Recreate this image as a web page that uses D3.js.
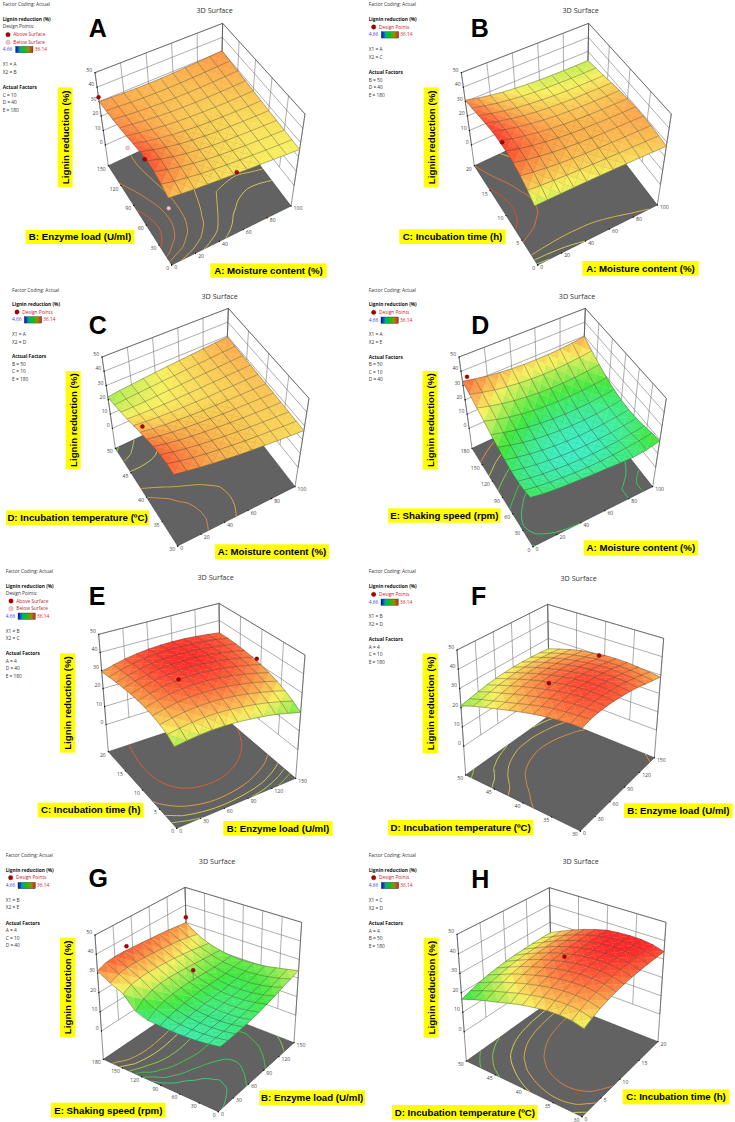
<!DOCTYPE html>
<html>
<head>
<meta charset="utf-8">
<script src="https://cdn.jsdelivr.net/npm/d3@7"></script>
<style>
  html, body { margin: 0; padding: 0; background: #fff; }
  text { font-family: "Open Sans", "Noto Sans", sans-serif; }
</style>
</head>
<body>
<div id="chart"></div>
<script>
// Lignin reduction, rows = second factor low to high, columns = first factor low to high
var surfaceA = [
  [28,27.5,27,26.7,26.4,26.2,26,25.8,25.6,25.4,25.2],
  [31,29.5,28.5,27.6,27,26.5,26.2,26,25.8,25.7,25.6],
  [33,31,29.5,28.3,27.4,26.8,26.4,26.2,26,26,26],
  [34,31.8,30,28.7,27.7,27,26.6,26.4,26.3,26.3,26.4],
  [33.8,31.8,30.1,28.8,27.9,27.2,26.8,26.7,26.6,26.7,26.8],
  [33,31.3,29.9,28.8,28,27.4,27.1,27,27,27.1,27.3],
  [32,30.7,29.6,28.7,28,27.6,27.4,27.3,27.4,27.6,27.9],
  [31.2,30.2,29.3,28.6,28.1,27.8,27.7,27.7,27.9,28.2,28.5],
  [30.6,29.8,29.1,28.6,28.2,28,28,28.1,28.4,28.7,29.1],
  [30.2,29.6,29,28.6,28.4,28.3,28.4,28.6,28.9,29.3,29.7],
  [30,29.5,29,28.7,28.6,28.6,28.8,29.1,29.5,29.9,30.4]
];
var surfaceB = [
  [23,23.5,24,24.5,25,25.4,25.8,26.2,26.6,26.9,27.2],
  [27,26.7,26.6,26.6,26.7,26.8,27,27.3,27.6,27.9,28.2],
  [30.3,29.4,28.7,28.2,28,27.9,28,28.2,28.4,28.7,29],
  [32.7,31.3,30.2,29.4,28.9,28.6,28.5,28.6,28.8,29,29.3],
  [34.2,32.5,31.2,30.1,29.4,28.9,28.7,28.7,28.8,29,29.3],
  [35,33,31.5,30.3,29.4,28.8,28.4,28.3,28.3,28.5,28.8],
  [35,32.9,31.2,30,29,28.3,27.9,27.7,27.7,27.8,28],
  [34.3,32.2,30.5,29.2,28.2,27.5,27.1,26.8,26.8,26.8,27],
  [33.2,31.2,29.5,28.2,27.2,26.5,26,25.7,25.6,25.6,25.8],
  [32,30,28.4,27.2,26.2,25.5,25,24.7,24.5,24.5,24.6],
  [31,29,27.4,26.1,25.2,24.5,24,23.7,23.5,23.4,23.5]
];
var surfaceC = [
  [32,31,30,29.2,28.6,28,27.6,27.3,27,26.8,26.6],
  [33,31.6,30.4,29.5,28.8,28.2,27.7,27.4,27.2,27,26.9],
  [33,31.5,30.3,29.4,28.8,28.2,27.8,27.5,27.3,27.2,27.2],
  [32.3,30.9,29.8,29.1,28.5,28.1,27.7,27.5,27.4,27.4,27.5],
  [31,29.9,29,28.4,28,27.7,27.5,27.5,27.5,27.6,27.8],
  [29.5,28.6,27.9,27.5,27.2,27.1,27.1,27.2,27.4,27.6,27.9],
  [27.8,27.2,26.8,26.6,26.6,26.7,26.8,27.1,27.4,27.8,28.2],
  [26,25.8,25.7,25.8,26,26.3,26.7,27.1,27.5,28,28.5],
  [24.4,24.5,24.8,25.2,25.7,26.2,26.7,27.2,27.7,28.3,28.8],
  [23,23.6,24.2,24.8,25.4,26,26.6,27.2,27.8,28.4,29],
  [22,23,23.7,24.5,25.2,25.9,26.5,27.2,27.9,28.6,29.2]
];
var surfaceD = [
  [17.2,16.1,15.6,15.3,15.2,15,15,15,15.2,16.5,19],
  [15.8,14.8,14,13.5,13.2,13.2,13.5,14.2,15.2,16.6,18.3],
  [15.5,14.3,13.4,12.8,12.4,12.3,12.5,13.1,14,15.3,16.9],
  [16,14.6,13.4,12.6,12.1,11.9,12,12.5,13.3,14.5,16],
  [17.3,15.6,14.2,13.2,12.5,12.1,12.1,12.5,13.2,14.3,15.7],
  [19.4,17.4,15.7,14.5,13.6,13.1,13,13.2,13.8,14.8,16.1],
  [21.7,19.6,17.8,16.4,15.4,14.8,14.5,14.6,15.1,16,17.3],
  [24.5,22.2,20.4,18.9,17.9,17.2,16.9,17,17.4,18.2,19.4],
  [27.2,25,23.2,21.8,20.8,20.1,19.8,19.9,20.3,21.1,22.3],
  [30.2,28.2,26.4,25.1,24.1,23.5,23.2,23.3,23.8,24.6,25.8],
  [33,31.2,29.8,28.7,27.9,27.4,27.2,27.3,27.7,28.5,29.6]
];
var surfaceE = [
  [22,23,23.9,24.5,24.7,24.6,24.2,23.6,22.7,21.3,19.7],
  [24.7,26,27,27.7,28,27.9,27.5,26.8,25.8,24.4,22.7],
  [26.6,28,29.2,30,30.4,30.4,30,29.3,28.2,26.9,25.2],
  [28,29.6,31,31.9,32.3,32.4,32.1,31.3,30.3,29,27.3],
  [29,30.8,32.2,33.2,33.8,33.9,33.6,32.9,31.9,30.6,29],
  [29.6,31.4,33,34,34.6,34.8,34.6,34,33.1,31.9,30.4],
  [30,31.8,33.4,34.5,35.2,35.5,35.3,34.8,33.9,32.8,31.4],
  [30,31.9,33.5,34.7,35.4,35.7,35.6,35.2,34.4,33.4,32.1],
  [29.9,31.8,33.4,34.6,35.3,35.7,35.7,35.3,34.6,33.8,32.6],
  [29.6,31.6,33.1,34.3,35,35.4,35.5,35.2,34.7,33.9,32.8],
  [29.2,31.2,32.7,33.8,34.6,35,35.1,34.9,34.4,33.7,32.8]
];
var surfaceF = [
  [31,32.3,33,33.3,33.3,33.1,32.7,32,31,30,28.8],
  [30.9,32.2,33.2,33.8,34,33.9,33.6,33,32,30.9,29.6],
  [30.6,32,33.2,34,34.3,34.4,34.1,33.5,32.6,31.6,30.3],
  [30.3,31.6,32.8,33.7,34.2,34.4,34.2,33.7,33,32,30.9],
  [29.6,30.8,32,33,33.7,34,33.9,33.5,32.9,32,31],
  [28.6,29.6,30.9,32,32.8,33.2,33.2,33,32.4,31.6,30.8],
  [27.4,28.2,29.6,30.8,31.6,32.1,32.2,32,31.5,30.8,30],
  [26,26.8,28.2,29.4,30.2,30.7,30.9,30.8,30.4,29.8,29.2],
  [24.6,25.3,26.6,27.7,28.5,29,29.3,29.2,28.9,28.4,27.8],
  [23,23.8,25,25.9,26.6,27.2,27.4,27.4,27.1,26.7,26],
  [21,22,23,23.9,24.5,25,25.2,25.2,25,24.6,24]
];
var surfaceG = [
  [14.4,14.6,15,15.5,16.2,17,18.2,19.5,21,22.5,24],
  [13.7,13.9,14.2,14.7,15.3,16.1,17,18,19.4,20.9,22.7],
  [13.3,13.6,14,14.4,15,15.5,16.3,17.1,18.2,19.7,21.5],
  [13.2,13.6,14.1,14.7,15.2,15.7,16.2,16.8,17.7,18.9,20.4],
  [13.4,14.1,14.9,15.4,16,16.3,16.6,17,17.6,18.5,19.8],
  [13.9,15.4,16.4,17,17.6,18,18,18,18.2,18.8,19.5],
  [14.6,17.2,18.8,19.6,20,20.1,19.9,19.7,19.5,19.5,19.8],
  [17,20.4,22.2,23,23.2,23,22.6,22.2,21.7,21.2,20.8],
  [23.5,25.5,26.3,26.6,26.5,26.2,25.8,25.2,24.5,23.5,22.5],
  [27,29,29.8,30,29.8,29.5,29,28.5,27.8,26.8,25.5],
  [31.2,33,33.5,33.5,33.2,32.8,32.4,32,31.5,30.8,30]
];
var surfaceH = [
  [24,26,27.8,29.2,30.4,31.4,32.2,32.8,33.3,33.7,34],
  [25.6,27.7,29.5,31,32.2,33.2,34,34.6,35.1,35.5,35.8],
  [26.2,28.4,30.2,31.8,33,34,34.9,35.5,36,36.4,36.7],
  [26.2,28.4,30.3,31.9,33.2,34.2,35.1,35.7,36.2,36.6,36.8],
  [25.6,27.9,29.9,31.5,32.8,33.9,34.7,35.4,35.9,36.3,36.5],
  [24.8,27,29,30.7,32,33,33.9,34.6,35.1,35.5,35.8],
  [23.5,25.8,27.8,29.4,30.7,31.7,32.6,33.2,33.7,34,34.2],
  [22,24.2,26.2,27.8,29,30,30.8,31.4,31.8,32.1,32.2],
  [20.5,22.6,24.4,25.9,27,27.9,28.6,29.1,29.5,29.7,29.8],
  [18.8,20.6,22.2,23.5,24.6,25.4,26,26.4,26.7,26.9,27],
  [16.7,18.3,19.8,21,21.9,22.6,23.1,23.5,23.7,23.9,24]
];

// Levels of the contour lines on the floor
var levelsA = [26.3,26.8,27.6,29,30.5,32.5];
var levelsB = [23.5,25,27,31,33.5];
var levelsC = [22.3,23.5,25,28,29.5];
var levelsD = [15.2,17,21,25,29];
var levelsE = [22,24,26,28.5,32.5];
var levelsF = [22,25,27,29.5];
var levelsG = [14.5,16,18.5,22,25.5,28];
var levelsH = [19.3,21.8,25.2,27.5,30.5];

// Design points: first factor, second factor, lignin reduction, kind (1 above, 0 below), surface under the point if its stem shows
var pointsA = [[0,150,33,1],[0,50,33,1],[52,0,27,1],[0,90,24,0],[0,0,21.6,0]];
var pointsB = [[0,9,37,1]];
var pointsC = [[0,39,36.5,1]];
var pointsD = [[4,180,34.7,1]];
var pointsE = [[50,10,34.5,1],[150,11,32,1]];
var pointsF = [[50,40,34.3,1],[140,40,32.7,1]];
var pointsG = [[50,180,35.5,1],[150,180,33,1],[82,108,25,1,19.5]];
var pointsH = [[10,40,35.5,1]];

// Axis ticks
var ticksMoisture = [0,20,40,60,80,100];
var ticksEnzyme = [0,30,60,90,120,150];
var ticksTime = [0,5,10,15,20];
var ticksTemp = [30,35,40,45,50];
var ticksSpeed = [0,30,60,90,120,150,180];
var ticksLignin = [0,10,20,30,40,50];

var labelMoisture = "A: Moisture content (%)";
var labelEnzyme = "B: Enzyme load (U/ml)";
var labelTime = "C: Incubation time (h)";
var labelTemp = "D: Incubation temperature (\u00BAC)";
var labelSpeed = "E: Shaking speed (rpm)";
var labelLignin = "Lignin reduction (%)";

var colorValues = [4.66, 11.5, 18, 25.5, 36];
var colorStops = ["#3030ff", "#40f0d0", "#40e840", "#f8f060", "#ff2828"];

var width = 735, height = 1122;

// All layout numbers below are in the 3x zoom space of one panel, see at()
var panels = [
  { letter:"A", ox:0, oy:0, data:surfaceA, levels:levelsA, points:pointsA, uTicks:ticksMoisture, vTicks:ticksEnzyme,
    floorZ:-14.3, F:[515,795], R:[873,618], L:[325,497], B:[662,340], Ft:[499,490], Rt:[915,342], Lt:[285,218], Bt:[668,70],
    title:[644,32], big:[293,110], lx:8, fy:13, ly:58, two:true, dy:[80,104,127], by:148, bx:47, xy:[193,217], ay:262, ays:[285,307,330],
    xn:["X1 = A","X2 = B"], act:["C = 10","D = 40","E = 180"],
    yBox:[173,262,218,562], vLab:labelEnzyme, vBox:[77,690,403,732], uLab:labelMoisture, uBox:[631,790,980,833] },
  { letter:"B", ox:367, oy:0, data:surfaceB, levels:levelsB, points:pointsB, uTicks:ticksMoisture, vTicks:ticksTime,
    floorZ:-14.3, F:[512,795], R:[871,615], L:[322,497], B:[660,340], Ft:[496,490], Rt:[913,342], Lt:[283,218], Bt:[665,70],
    title:[641,32], big:[338,110], lx:5, fy:13, ly:58, dy:[81], by:104, bx:43, xy:[148,172], ay:217, ays:[240,263,286],
    xn:["X1 = A","X2 = C"], act:["B = 50","D = 40","E = 180"],
    yBox:[170,262,215,562], vLab:labelTime, vBox:[97,688,416,732], uLab:labelMoisture, uBox:[646,783,995,827] },
  { letter:"C", ox:0, oy:285, data:surfaceC, levels:levelsC, points:pointsC, uTicks:ticksMoisture, vTicks:ticksTemp,
    floorZ:-14, F:[533,783], R:[885,605], L:[346,490], B:[676,335], Ft:[516,485], Rt:[927,340], Lt:[306,216], Bt:[685,70],
    title:[659,33], big:[293,148], lx:36, fy:15, ly:59, dy:[81], by:104, bx:73, xy:[148,171], ay:215, ays:[238,260,283],
    xn:["X1 = A","X2 = D"], act:["B = 50","C = 10","E = 180"],
    yBox:[197,258,242,553], vLab:labelTemp, vBox:[18,676,447,720], uLab:labelMoisture, uBox:[645,778,987,822] },
  { letter:"D", ox:367, oy:285, data:surfaceD, levels:levelsD, points:pointsD, uTicks:ticksMoisture, vTicks:ticksSpeed,
    floorZ:-14, F:[498,785], R:[857,605], L:[315,490], B:[645,335], Ft:[482,482], Rt:[898,340], Lt:[276,216], Bt:[655,70],
    title:[630,33], big:[340,148], lx:5, fy:15, ly:59, dy:[82], by:105, bx:42, xy:[148,172], ay:216, ays:[239,261,284],
    xn:["X1 = A","X2 = E"], act:["B = 50","C = 10","D = 40"],
    yBox:[167,258,212,553], vLab:labelSpeed, vBox:[63,670,401,713], uLab:labelMoisture, uBox:[650,766,993,810] },
  { letter:"E", ox:0, oy:570, data:surfaceE, levels:levelsE, points:pointsE, uTicks:ticksEnzyme, vTicks:ticksTime,
    floorZ:-15, F:[530,775], R:[887,625], L:[325,545], B:[662,433], Ft:[518,345], Rt:[915,255], Lt:[296,193], Bt:[657,100],
    title:[647,21], big:[291,105], lx:17, fy:3, ly:48, two:true, dy:[70,93,116], by:138, bx:54, xy:[183,206], ay:250, ays:[273,296,318],
    xn:["X1 = B","X2 = C"], act:["A = 4","D = 40","E = 180"],
    yBox:[180,250,226,548], vLab:labelTime, vBox:[113,698,431,742], uLab:labelEnzyme, uBox:[670,753,998,797] },
  { letter:"F", ox:367, oy:570, data:surfaceF, levels:levelsF, points:pointsF, uTicks:ticksEnzyme, vTicks:ticksTemp,
    floorZ:-15, F:[640,783], R:[862,563], L:[296,615], B:[548,436], Ft:[650,345], Rt:[890,205], Lt:[270,240], Bt:[542,103],
    title:[635,25], big:[335,105], lx:5, fy:5, ly:50, dy:[73], by:96, bx:42, xy:[140,163], ay:208, ays:[231,253,276],
    xn:["X1 = B","X2 = D"], act:["A = 4","C = 10","E = 180"],
    yBox:[167,250,213,550], vLab:labelTemp, vBox:[63,750,499,795], uLab:labelEnzyme, uBox:[771,700,1097,744] },
  { letter:"G", ox:0, oy:845, data:surfaceG, levels:levelsG, points:pointsG, uTicks:ticksEnzyme, vTicks:ticksSpeed,
    floorZ:-14.8, F:[655,800], R:[882,593], L:[310,643], B:[565,470], Ft:[668,368], Rt:[905,232], Lt:[285,270], Bt:[555,127],
    title:[651,49], big:[295,127], lx:17, fy:30, ly:75, dy:[98], by:121, bx:54, xy:[165,188], ay:234, ays:[256,279,302],
    xn:["X1 = B","X2 = E"], act:["A = 4","C = 10","D = 40"],
    yBox:[180,278,226,576], vLab:labelSpeed, vBox:[153,773,497,818], uLab:labelEnzyme, uBox:[778,736,1095,781] },
  { letter:"H", ox:367, oy:845, data:surfaceH, levels:levelsH, points:pointsH, uTicks:ticksTime, vTicks:ticksTemp,
    floorZ:-15, F:[645,815], R:[873,590], L:[298,648], B:[555,465], Ft:[655,375], Rt:[897,232], Lt:[270,268], Bt:[547,128],
    title:[641,49], big:[340,129], lx:5, fy:30, ly:75, dy:[98], by:121, bx:43, xy:[165,189], ay:235, ays:[258,280,303],
    xn:["X1 = C","X2 = D"], act:["A = 4","B = 50","E = 180"],
    yBox:[170,278,215,578], vLab:labelTemp, vBox:[75,780,512,824], uLab:labelTime, uBox:[767,733,1087,778] }
];

var svg = d3.select("#chart").append("svg")
  .attr("width", width)
  .attr("height", height)
  .style("display", "block");

var color = d3.scaleLinear().domain(colorValues).range(colorStops).clamp(true);

var grad = svg.append("defs").append("linearGradient").attr("id", "legendBar");
["#0000e0", "#00a890", "#10c010", "#909010", "#e02010"].forEach(function(c, i) {
  grad.append("stop").attr("offset", (i * 25) + "%").attr("stop-color", c);
});

panels.forEach(drawPanel);

function drawPanel(p) {
  var g = svg.append("g");
  var n = p.data.length;

  function at(x, y) { return [p.ox + x / 3, p.oy + y / 3]; }

  var uScale = d3.scaleLinear().domain(d3.extent(p.uTicks)).range([0, 1]);
  var vScale = d3.scaleLinear().domain(d3.extent(p.vTicks)).range([0, 1]);
  var zScale = d3.scaleLinear().domain([p.floorZ, 50]).range([0, 1]);
  var nodeScale = d3.scaleLinear().domain([0, n - 1]).range([0, 1]);

  // Box corners are blended, that keeps the perspective of the frame well enough
  function project(u, v, w) {
    function mix(k) {
      var low = (1-u)*(1-v)*p.F[k] + u*(1-v)*p.R[k] + (1-u)*v*p.L[k] + u*v*p.B[k];
      var high = (1-u)*(1-v)*p.Ft[k] + u*(1-v)*p.Rt[k] + (1-u)*v*p.Lt[k] + u*v*p.Bt[k];
      return low + (high - low) * w;
    }
    return at(mix(0), mix(1));
  }

  var straight = d3.line();
  var smooth = d3.line().curve(d3.curveCatmullRom);

  // Floor
  g.append("path")
    .attr("d", straight([project(0,0,0), project(1,0,0), project(1,1,0), project(0,1,0)]) + "Z")
    .attr("fill", "#626262")
    .attr("stroke", "#333")
    .attr("stroke-width", 0.5);

  // Walls
  var wall = g.append("g").attr("fill", "none").attr("stroke", "#777").attr("stroke-width", 0.6);
  var z0 = zScale(0);
  ticksLignin.forEach(function(t) {
    var w = zScale(t);
    wall.append("path").attr("d", straight([project(0,1,w), project(1,1,w), project(1,0,w)]));
  });
  p.uTicks.forEach(function(t) {
    var u = uScale(t);
    wall.append("path").attr("d", straight([project(u,1,z0), project(u,1,1)]));
  });
  p.vTicks.forEach(function(t) {
    var v = vScale(t);
    wall.append("path").attr("d", straight([project(1,v,z0), project(1,v,1)]));
  });
  var frame = g.append("g").attr("fill", "none").attr("stroke", "#444").attr("stroke-width", 0.6);
  frame.append("path").attr("d", straight([project(0,1,1), project(1,1,1), project(1,0,1)]));
  frame.append("path").attr("d", straight([project(0,1,0), project(0,1,1)]));
  frame.append("path").attr("d", straight([project(1,1,0), project(1,1,1)]));
  frame.append("path").attr("d", straight([project(1,0,0), project(1,0,1)]));

  // Contours from the surface values, the border pieces of each ring are thrown away
  var contours = d3.contours().size([n, n]).smooth(true);
  var flat = d3.merge(p.data);
  function onEdge(q) { return q[0] <= 0 || q[0] >= n || q[1] <= 0 || q[1] >= n; }
  function floorPoint(q) {
    return project(Math.max(0, Math.min(1, nodeScale(q[0] - 0.5))), Math.max(0, Math.min(1, nodeScale(q[1] - 0.5))), 0);
  }
  p.levels.forEach(function(level) {
    contours.contour(flat, level).coordinates.forEach(function(poly) {
      poly.forEach(function(ring) {
        var runs = [], run = [];
        ring.forEach(function(q) {
          if (onEdge(q)) {
            if (run.length > 1) runs.push(run);
            run = [];
          } else {
            run.push(q);
          }
        });
        if (run.length > 1) runs.push(run);
        runs.forEach(function(r) {
          g.append("path")
            .attr("d", smooth(r.map(floorPoint)))
            .attr("fill", "none")
            .attr("stroke", d3.color(color(level)).darker(0.4))
            .attr("stroke-width", 1);
        });
      });
    });
  });

  // Floor and height ticks
  var tickText = g.append("g").attr("font-size", 5.1).attr("fill", "#444");
  function tickDot(q) {
    g.append("circle").attr("cx", q[0]).attr("cy", q[1]).attr("r", 0.7).attr("fill", "#111");
  }
  p.uTicks.forEach(function(t) {
    var q = project(uScale(t), 0, 0);
    tickDot(q);
    tickText.append("text").attr("x", q[0] + 2.6).attr("y", q[1] + 4.4).text(t);
  });
  p.vTicks.forEach(function(t) {
    var q = project(0, vScale(t), 0);
    tickDot(q);
    tickText.append("text").attr("x", q[0] - 2.6).attr("y", q[1] + 5).attr("text-anchor", "end").text(t);
  });
  ticksLignin.forEach(function(t) {
    var q = project(0, 1, zScale(t));
    tickDot(q);
    tickText.append("text").attr("x", q[0] - 2.8).attr("y", q[1] - 1).attr("text-anchor", "end").text(t);
  });

  // Surface, back cells first. Each cell is a fan of four triangles so the colour runs smoothly
  var sheet = g.append("g");
  function node(i, j) { return project(nodeScale(i), nodeScale(j), zScale(p.data[j][i])); }
  for (var j = n - 2; j >= 0; j--) {
    for (var i = n - 2; i >= 0; i--) {
      var corners = [node(i,j), node(i+1,j), node(i+1,j+1), node(i,j+1)];
      var vals = [p.data[j][i], p.data[j][i+1], p.data[j+1][i+1], p.data[j+1][i]];
      var mid = [d3.mean(corners, function(c) { return c[0]; }), d3.mean(corners, function(c) { return c[1]; })];
      var midVal = d3.mean(vals);
      for (var k = 0; k < 4; k++) {
        var next = (k + 1) % 4;
        var fill = color((vals[k] + vals[next] + midVal) / 3);
        sheet.append("path")
          .attr("d", straight([corners[k], corners[next], mid]) + "Z")
          .attr("fill", fill)
          .attr("stroke", fill)
          .attr("stroke-width", 0.3);
      }
    }
  }
  var mesh = g.append("g").attr("fill", "none").attr("stroke", "#3a3a2a").attr("stroke-opacity", 0.75).attr("stroke-width", 0.5);
  d3.range(n).forEach(function(a) {
    mesh.append("path").attr("d", smooth(d3.range(n).map(function(b) { return node(b, a); })));
    mesh.append("path").attr("d", smooth(d3.range(n).map(function(b) { return node(a, b); })));
  });

  // Design points
  p.points.forEach(function(d) {
    var q = project(uScale(d[0]), vScale(d[1]), zScale(d[2]));
    if (d[4] !== undefined) {
      g.append("path")
        .attr("d", straight([q, project(uScale(d[0]), vScale(d[1]), zScale(d[4]))]))
        .attr("stroke", "#666").attr("stroke-width", 0.5);
    }
    g.append("circle").attr("cx", q[0]).attr("cy", q[1]).attr("r", 2)
      .attr("fill", d[3] ? "#a80000" : "#f8c8c8")
      .attr("stroke", d[3] ? "#700" : "#b08888")
      .attr("stroke-width", 0.4);
  });

  // Title and panel letter
  var t = at(p.title[0], p.title[1]);
  g.append("text").attr("x", t[0]).attr("y", t[1] + 2.5).attr("text-anchor", "middle")
    .attr("font-size", 7.2).attr("fill", "#333").text("3D Surface");
  var b = at(p.big[0], p.big[1]);
  g.append("text").attr("x", b[0]).attr("y", b[1]).attr("text-anchor", "middle")
    .style("font-family", "'Liberation Sans', Arial, sans-serif")
    .attr("font-size", 25).attr("font-weight", "bold").attr("fill", "#000").text(p.letter);

  // Legend
  function legendText(x, y, s, fill, bold) {
    var q = at(x, y);
    g.append("text").attr("x", q[0]).attr("y", q[1] + 1.7).attr("font-size", 4.8)
      .attr("font-weight", bold ? "bold" : "normal").attr("fill", fill || "#333").text(s);
  }
  function legendDot(x, y, above) {
    var q = at(x, y);
    g.append("circle").attr("cx", q[0]).attr("cy", q[1]).attr("r", 2.2)
      .attr("fill", above ? "#a80000" : "#f8c8c8")
      .attr("stroke", above ? "#700" : "#b08888").attr("stroke-width", 0.4);
  }
  legendText(p.lx, p.fy, "Factor Coding: Actual");
  legendText(p.lx, p.ly, "Lignin reduction (%)", "#111", true);
  if (p.two) {
    legendText(p.lx, p.dy[0], "Design Points:");
    legendDot(p.lx + 16, p.dy[1], true);
    legendText(p.lx + 32, p.dy[1], "Above Surface", "#c02030");
    legendDot(p.lx + 16, p.dy[2], false);
    legendText(p.lx + 32, p.dy[2], "Below Surface", "#c02030");
  } else {
    legendDot(p.lx + 15, p.dy[0], true);
    legendText(p.lx + 31, p.dy[0], "Design Points", "#c02030");
  }
  var barAt = at(p.bx, p.by - 9);
  g.append("rect").attr("x", barAt[0]).attr("y", barAt[1]).attr("width", 17.3).attr("height", 6.4)
    .attr("fill", "url(#legendBar)").attr("stroke", "#333").attr("stroke-width", 0.4);
  legendText(p.lx, p.by, "4.66", "#3040f0");
  legendText(p.bx + 57, p.by, "36.14", "#e02030");
  legendText(p.lx, p.xy[0], p.xn[0]);
  legendText(p.lx, p.xy[1], p.xn[1]);
  legendText(p.lx, p.ay, "Actual Factors", "#111", true);
  p.act.forEach(function(s, i) { legendText(p.lx, p.ays[i], s); });

  // Yellow axis labels
  function boxLabel(box, s, vertical) {
    var a = at(box[0], box[1]), c = at(box[2], box[3]);
    g.append("rect").attr("x", a[0]).attr("y", a[1]).attr("width", c[0] - a[0]).attr("height", c[1] - a[1]).attr("fill", "#ffff00");
    var mx = (a[0] + c[0]) / 2, my = (a[1] + c[1]) / 2;
    g.append("text")
      .attr("transform", "translate(" + mx + "," + my + ")" + (vertical ? " rotate(-90)" : ""))
      .attr("text-anchor", "middle").attr("dy", "0.35em")
      .style("font-family", "'Liberation Sans', Arial, sans-serif")
      .attr("font-size", 9.7).attr("font-weight", "bold").attr("fill", "#000").text(s);
  }
  boxLabel(p.yBox, labelLignin, true);
  boxLabel(p.vBox, p.vLab, false);
  boxLabel(p.uBox, p.uLab, false);
}
</script>
</body>
</html>
